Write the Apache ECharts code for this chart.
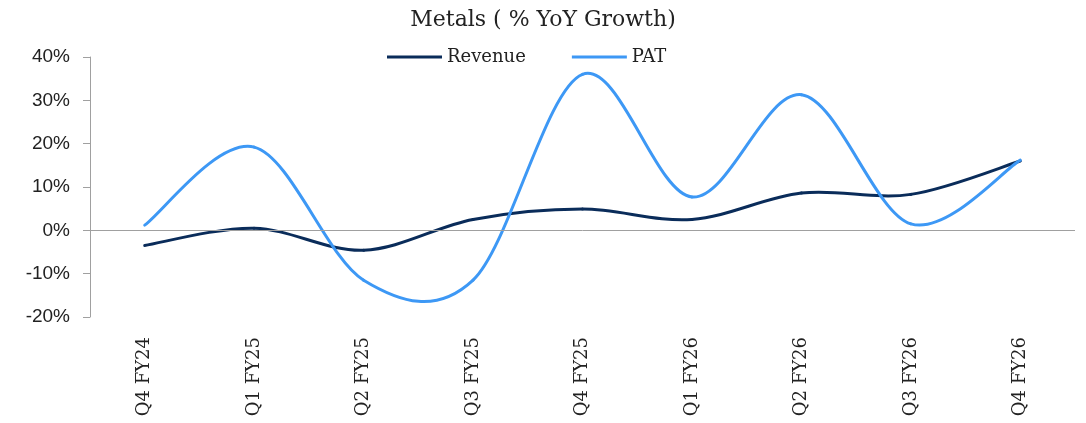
<!DOCTYPE html>
<html>
<head>
<meta charset="utf-8">
<script src="https://cdn.jsdelivr.net/npm/echarts@6/dist/echarts.min.js"></script>
<style>
html,body{margin:0;padding:0;background:#fff;}
#chart{width:1086px;height:423px;}
</style>
</head>
<body>
<div id="chart"></div>
<script>
const categories = ['Q4 FY24','Q1 FY25','Q2 FY25','Q3 FY25','Q4 FY25','Q1 FY26','Q2 FY26','Q3 FY26','Q4 FY26'];
const revenue = [-3.5, 0.5, -4.6, 2.5, 4.9, 2.5, 8.6, 8.3, 16.0];
const pat = [1.2, 19.2, -11.5, -11.5, 36.0, 7.7, 31.3, 1.5, 16.2];
const yTicks = { min: -20, max: 40, interval: 10 };

const serif = '"DejaVu Serif", "Liberation Serif", serif';
const sans = '"Liberation Sans", "DejaVu Sans", sans-serif';
const revColor = '#0a2c5a';
const patColor = '#3d98f5';

// Smoothed line (Catmull-Rom style, like spreadsheet "smoothed line") drawn
// segment by segment through the chart's own coordinate system.
function smoothRender(values, color) {
  return function (params, api) {
    const i = params.dataIndex;
    const n = values.length;
    if (i >= n - 1) return null;
    const pt = k => {
      const c = Math.max(0, Math.min(n - 1, k));
      return api.coord([c, values[c]]);
    };
    const p0 = pt(i - 1), p1 = pt(i), p2 = pt(i + 1), p3 = pt(i + 2);
    return {
      type: 'bezierCurve',
      shape: {
        x1: p1[0], y1: p1[1],
        x2: p2[0], y2: p2[1],
        cpx1: p1[0] + (p2[0] - p0[0]) / 6,
        cpy1: p1[1] + (p2[1] - p0[1]) / 6,
        cpx2: p2[0] - (p3[0] - p1[0]) / 6,
        cpy2: p2[1] - (p3[1] - p1[1]) / 6
      },
      style: { stroke: color, lineWidth: 3, fill: null, lineCap: 'round' },
      silent: true
    };
  };
}

const chart = echarts.init(document.getElementById('chart'), null, {renderer: 'canvas'});
chart.setOption({
  animation: false,
  backgroundColor: '#ffffff',
  title: {
    text: 'Metals ( % YoY Growth)',
    left: 'center',
    top: 4,
    textStyle: { fontFamily: serif, fontWeight: 'normal', fontSize: 22, color: '#222' }
  },
  legend: {
    top: 43,
    left: 382,
    itemGap: 46,
    itemWidth: 55,
    itemHeight: 3,
    icon: 'rect',
    textStyle: { fontFamily: serif, fontSize: 18, color: '#222' },
    data: ['Revenue', 'PAT']
  },
  grid: { left: 90, right: 11, top: 57, bottom: 106, containLabel: false },
  xAxis: {
    type: 'category',
    data: categories,
    boundaryGap: true,
    axisLine: { show: false, onZero: false },
    axisTick: { show: false },
    splitLine: { show: false },
    axisLabel: {
      rotate: 90,
      margin: 20,
      fontFamily: serif,
      fontSize: 18,
      color: '#222',
      interval: 0
    }
  },
  yAxis: {
    type: 'value',
    min: yTicks.min,
    max: yTicks.max,
    interval: yTicks.interval,
    axisLine: { show: true, lineStyle: { color: '#a0a0a0', width: 1 } },
    axisTick: { show: true, length: 7, lineStyle: { color: '#a0a0a0' } },
    splitLine: { show: false },
    axisLabel: {
      formatter: '{value}%',
      margin: 20,
      fontFamily: sans,
      fontSize: 19,
      color: '#222'
    }
  },
  series: [
    {
      name: 'Revenue',
      type: 'custom',
      data: revenue.map((v, i) => [i, v]),
      encode: { x: 0, y: 1 },
      renderItem: smoothRender(revenue, revColor),
      itemStyle: { color: revColor },
      z: 3,
      markLine: {
        silent: true,
        symbol: 'none',
        label: { show: false },
        lineStyle: { color: '#a0a0a0', width: 1, type: 'solid' },
        data: [{ yAxis: 0 }]
      }
    },
    {
      name: 'PAT',
      type: 'custom',
      data: pat.map((v, i) => [i, v]),
      encode: { x: 0, y: 1 },
      renderItem: smoothRender(pat, patColor),
      itemStyle: { color: patColor },
      z: 4
    }
  ]
});
</script>
</body>
</html>
